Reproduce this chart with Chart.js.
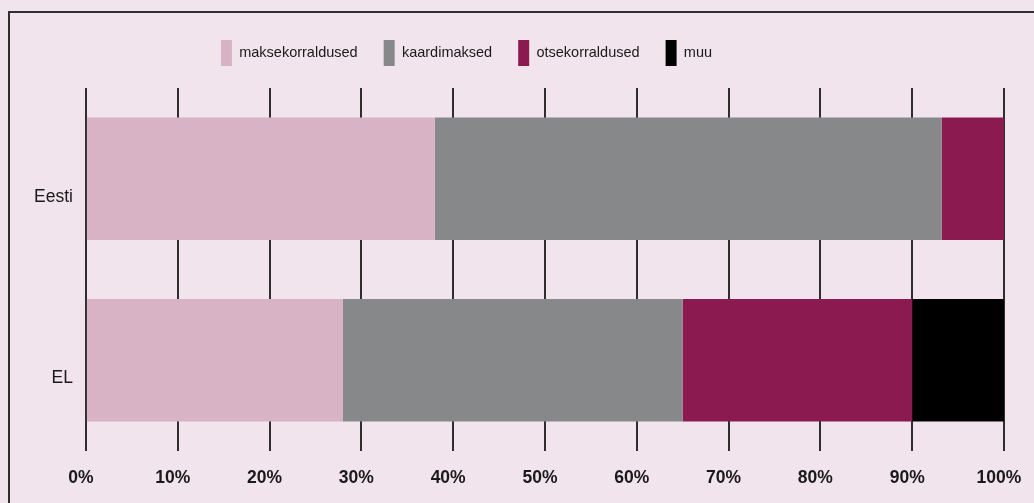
<!DOCTYPE html>
<html>
<head>
<meta charset="utf-8">
<script src="https://cdn.jsdelivr.net/npm/chart.js@4/dist/chart.umd.min.js"></script>
<style>
  html, body { margin: 0; padding: 0; background: #f2e4ec; }
  #wrap { position: relative; width: 1034px; height: 503px; overflow: hidden; }
  #frame { position: absolute; left: 8px; top: 11px; width: 1100px; height: 600px;
           border-left: 2px solid #2e2e2e; border-top: 2px solid #2e2e2e; pointer-events: none; }
  canvas { position: absolute; left: 0; top: 0; }
</style>
</head>
<body>
<div id="wrap">
  <canvas id="chart" width="1034" height="503"></canvas>
  <div id="frame"></div>
</div>
<script>
// Payment mix, share of transactions (%)
const categories = ['Eesti', 'EL'];
const seriesNames = ['maksekorraldused', 'kaardimaksed', 'otsekorraldused', 'muu'];
const maksekorraldused = [38, 28];
const kaardimaksed = [55.2, 37];
const otsekorraldused = [6.8, 25];
const muu = [0, 10];
const xTicks = [0, 10, 20, 30, 40, 50, 60, 70, 80, 90, 100];

const seriesValues = [maksekorraldused, kaardimaksed, otsekorraldused, muu];
const seriesColors = ['#d8b2c5', '#878889', '#8b1a50', '#000000'];

// Legend band: extra space below the legend and a horizontal shift of its items
const legendBand = {
  id: 'legendBand',
  beforeInit(chart) {
    const legend = chart.legend;
    const origFit = legend.fit;
    legend.fit = function () {
      origFit.call(this);
      this.height += chart.options.plugins.legendBand.extraHeight;
    };
  },
  afterLayout(chart) {
    const dx = chart.options.plugins.legendBand.shiftX;
    chart.legend.left += dx;
    chart.legend.right += dx;
  }
};

new Chart(document.getElementById('chart'), {
  type: 'bar',
  data: {
    labels: categories,
    datasets: seriesNames.map((name, i) => ({
      label: name,
      data: seriesValues[i],
      backgroundColor: seriesColors[i],
      borderWidth: 0,
      categoryPercentage: 1,
      barPercentage: 0.675
    }))
  },
  options: {
    indexAxis: 'y',
    responsive: false,
    animation: false,
    layout: { padding: { left: 21, right: 30, top: 14, bottom: -2 } },
    scales: {
      x: {
        stacked: true,
        min: 0,
        max: 100,
        afterBuildTicks(axis) { axis.ticks = xTicks.map(v => ({ value: v })); },
        // the end labels may run into the side margins
        afterFit(axis) { axis.paddingLeft = 0; axis.paddingRight = 0; },
        grid: { color: '#2e2e2e', lineWidth: 2, drawTicks: false },
        border: { display: false },
        ticks: {
          padding: 16.5,
          labelOffset: -5,
          color: '#1a1a1a',
          font: { family: 'Liberation Sans', size: 17.5, weight: 'bold' },
          callback: v => v + '%'
        }
      },
      y: {
        stacked: true,
        grid: { display: false, drawTicks: false },
        border: { display: false },
        ticks: {
          padding: 13,
          labelOffset: 18,
          color: '#1a1a1a',
          font: { family: 'Liberation Sans', size: 17.5 }
        }
      }
    },
    plugins: {
      legendBand: { extraHeight: 12, shiftX: -46 },
      tooltip: { enabled: false },
      legend: {
        position: 'top',
        labels: {
          boxWidth: 11,
          boxHeight: 26,
          padding: 26,
          color: '#1a1a1a',
          font: { family: 'Liberation Sans', size: 14.5 }
        }
      }
    }
  },
  plugins: [legendBand]
});
</script>
</body>
</html>
